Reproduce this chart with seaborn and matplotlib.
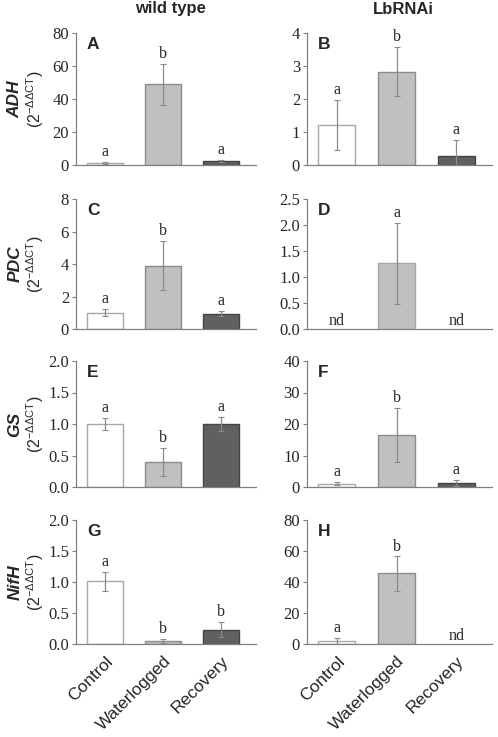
import numpy as np
import pandas as pd
import matplotlib
matplotlib.use("Agg")
import matplotlib.pyplot as plt
import seaborn as sns

# treatments on the x axis
conditions = ["Control", "Waterlogged", "Recovery"]
bar_colors = ["#ffffff", "#c0c0c0", "#606060"]
edge_colors = ["#a8a8a8", "#8c8c8c", "#444444"]

# values (nan = not detected, "nd")
adh_wt = [1.2, 49.0, 2.5];        adh_wt_err = [0.5, 12.5, 0.6]
adh_rnai = [1.2, 2.83, 0.28];     adh_rnai_err = [0.76, 0.75, 0.47]
pdc_wt = [1.0, 3.9, 0.95];        pdc_wt_err = [0.22, 1.5, 0.15]
pdc_rnai = [np.nan, 1.26, np.nan]; pdc_rnai_err = [0, 0.78, 0]
gs_wt = [1.0, 0.4, 1.0];          gs_wt_err = [0.1, 0.22, 0.11]
gs_rnai = [1.0, 16.5, 1.2];       gs_rnai_err = [0.5, 8.5, 0.9]
nifh_wt = [1.01, 0.05, 0.23];     nifh_wt_err = [0.15, 0.03, 0.12]
nifh_rnai = [2.0, 45.5, np.nan];  nifh_rnai_err = [1.8, 11.0, 0]

letters = {
    "A": ["a", "b", "a"], "B": ["a", "b", "a"],
    "C": ["a", "b", "a"], "D": ["nd", "a", "nd"],
    "E": ["a", "b", "a"], "F": ["a", "b", "a"],
    "G": ["a", "b", "b"], "H": ["a", "b", "nd"],
}
genes = ["ADH", "PDC", "GS", "NifH"]
ylims = {"A": (80, 20), "B": (4, 1), "C": (8, 2), "D": (2.5, 0.5),
         "E": (2.0, 0.5), "F": (40, 10), "G": (2.0, 0.5), "H": (80, 20)}

panels = [
    ("A", adh_wt, adh_wt_err), ("B", adh_rnai, adh_rnai_err),
    ("C", pdc_wt, pdc_wt_err), ("D", pdc_rnai, pdc_rnai_err),
    ("E", gs_wt, gs_wt_err), ("F", gs_rnai, gs_rnai_err),
    ("G", nifh_wt, nifh_wt_err), ("H", nifh_rnai, nifh_rnai_err),
]

sns.set_style("white")
plt.rcParams["font.family"] = ["Liberation Serif", "DejaVu Serif"]

W, H = 498, 737
fig = plt.figure(figsize=(W / 100, H / 100), dpi=100)

# axes boxes in pixels: (left, right) per column, (top, bottom) per row
cols = [(76, 256), (307, 492)]
rows = [(33, 165), (199, 329), (361, 487), (520, 644)]

spine_col = "#808080"
sans = ["Liberation Sans", "DejaVu Sans"]

for i, (name, vals, errs) in enumerate(panels):
    r, c = divmod(i, 2)
    l, rr = cols[c]
    t, b = rows[r]
    ax = fig.add_axes([l / W, 1 - b / H, (rr - l) / W, (b - t) / H])

    df = pd.DataFrame({"cond": conditions, "val": vals})
    sns.barplot(data=df, x="cond", y="val", hue="cond", order=conditions,
                hue_order=conditions, palette=bar_colors, errorbar=None,
                legend=False, width=0.62, linewidth=1.0, ax=ax)
    for p, cond in zip(ax.patches, conditions):
        k = conditions.index(cond)
        p.set_edgecolor(edge_colors[k])

    v = np.array(vals, dtype=float)
    e = np.array(errs, dtype=float)
    ok = ~np.isnan(v)
    xs = np.arange(3)
    lower = np.minimum(e, np.nan_to_num(v))
    ax.errorbar(xs[ok], v[ok], yerr=[lower[ok], e[ok]], fmt="none",
                ecolor="#8a8a8a", elinewidth=0.9, capsize=2, capthick=0.8)

    top, step = ylims[name]
    for k in range(3):
        lab = letters[name][k]
        if lab == "nd":
            ax.text(xs[k], 0, "nd", ha="center", va="bottom", fontsize=11.5)
        else:
            ax.text(xs[k], v[k] + e[k] + top * 0.015, lab, ha="center",
                    va="bottom", fontsize=11.5)

    ax.set_xlim(-0.5, 2.6)
    ax.set_ylim(0, top)
    ticks = np.arange(0, top + step / 2, step)
    ax.set_yticks(ticks)
    if step < 1:
        ax.set_yticklabels([f"{t_:.1f}" for t_ in ticks])
    else:
        ax.set_yticklabels([f"{t_:g}" for t_ in ticks])
    ax.tick_params(axis="y", labelsize=12, length=3, width=0.8,
                   color=spine_col, left=True, pad=2)
    ax.set_xlabel("")
    ax.set_ylabel("")
    for s in ["top", "right"]:
        ax.spines[s].set_visible(False)
    for s in ["left", "bottom"]:
        ax.spines[s].set_color(spine_col)
        ax.spines[s].set_linewidth(0.9)

    if r == 3:
        ax.set_xticks(xs)
        ax.set_xticklabels(conditions, rotation=45, ha="right",
                           rotation_mode="anchor", fontsize=12.5, family=sans)
        ax.tick_params(axis="x", length=0, pad=7)
    else:
        ax.set_xticks([])

    ax.text(0.06, 0.97, name, transform=ax.transAxes, ha="left", va="top",
            fontsize=12.5, fontweight="bold", family=sans)

    if c == 0:
        yc = 1 - (t + b) / 2 / H
        fig.text(15 / W, yc, genes[r], rotation=90, ha="center", va="center",
                 fontsize=12.5, fontweight="bold", fontstyle="italic",
                 family=sans)
        fig.text(35 / W, yc, r"(2$^{\mathregular{-\Delta\Delta CT}}$)",
                 rotation=90, ha="center", va="center", fontsize=11.5,
                 family=sans)

fig.text(170 / W, 1 - 9 / H, "wild type", ha="center", va="center",
         fontsize=12, fontweight="bold", family=sans)
fig.text(403 / W, 1 - 9 / H, "LbRNAi", ha="center", va="center",
         fontsize=12, fontweight="bold", family=sans)

fig.savefig("out.png", dpi=100)
